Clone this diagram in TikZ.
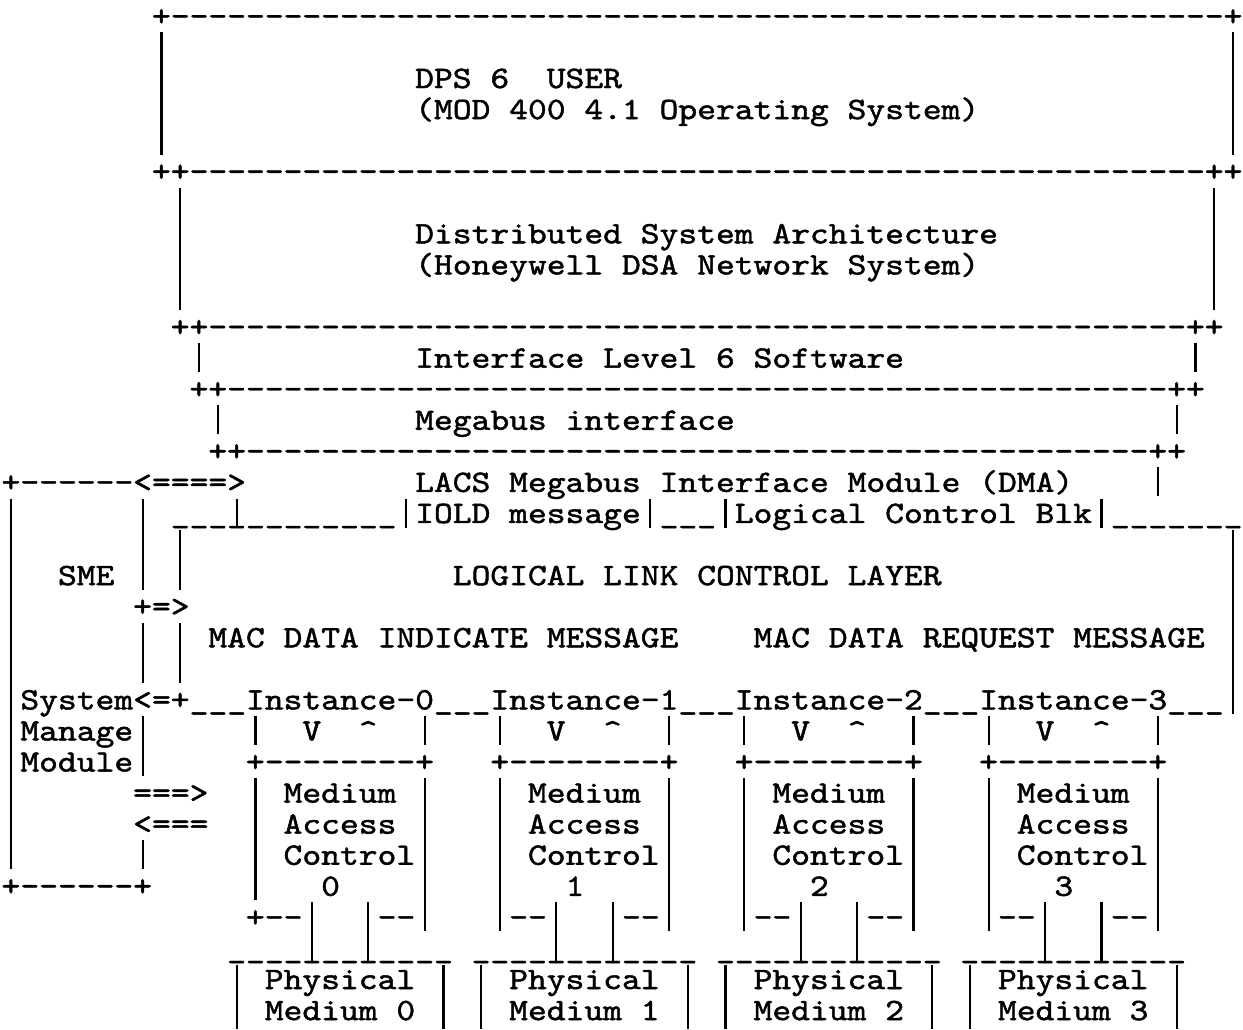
\documentclass[tikz,border=0pt]{standalone}
\usepackage{fontspec}
\setmonofont{lmmono10-regular.otf}[FakeStretch=1.15,FakeBold=1.5]
\ExplSyntaxOn
\cs_new:Npn \Rep #1#2 { \prg_replicate:nn {#1} {#2} }
\ExplSyntaxOff
\frenchspacing
% one text run of the typed grid: name, row, column, text
\newcommand\Cell[4]{\node[tw] (#1) at ({1.6+18.8*(#3)},{25.86+31.07*(#2)}) {#4};}
% a typed vertical bar: column, first row, last row
\newcommand\VB[3]{\draw[vbar] ({11+18.8*(#1)},{1.4+31.07*(#2)}) -- ({11+18.8*(#1)},{30.4+31.07*(#3)});}
% a bar from a row down to the lower edge of the page
\newcommand\VBend[2]{\draw[vbar] ({11+18.8*(#1)},{1.4+31.07*(#2)}) -- ({11+18.8*(#1)},1029);}
\begin{document}
\begin{tikzpicture}[x={(0.5pt,0)},y={(0,-0.5pt)},
  tw/.style={anchor=base west,inner sep=0pt,outer sep=0pt,
             font=\ttfamily\fontsize{15.57pt}{18pt}\selectfont},
  vbar/.style={line width=1.1pt,line cap=butt}]
\useasboundingbox[fill=white] (0,0) rectangle (1243,1029);
% ---- DPS 6 user
\Cell{a0}{0}{8}{+\Rep{56}{-}+}
\Cell{dps}{2}{22}{DPS~6~~USER}
\Cell{mod}{3}{22}{(MOD~400~4.1~Operating~System)}
\Cell{a5}{5}{8}{++\Rep{54}{-}++}
\VB{8}{1}{4}\VB{65}{1}{4}
% ---- DSA
\Cell{dsa}{7}{22}{Distributed~System~Architecture}
\Cell{hon}{8}{22}{(Honeywell~DSA~Network~System)}
\Cell{b10}{10}{9}{++\Rep{52}{-}++}
\VB{9}{6}{9}\VB{64}{6}{9}
% ---- Interface level 6
\Cell{ils}{11}{22}{Interface~Level~6~Software}
\Cell{c12}{12}{10}{++\Rep{50}{-}++}
\VB{10}{11}{11}\VB{63}{11}{11}
% ---- Megabus
\Cell{meg}{13}{22}{Megabus~interface}
\Cell{d14}{14}{11}{++\Rep{48}{-}++}
\VB{11}{13}{13}\VB{62}{13}{13}
% ---- LACS
\Cell{e15}{15}{0}{+------<====>}
\Cell{lacs}{15}{22}{LACS~Megabus~Interface~Module~(DMA)}
\VB{61}{15}{15}
\Cell{u16a}{16}{9}{\Rep{12}{\_}}
\Cell{iold}{16}{22}{IOLD~message}
\Cell{u16b}{16}{35}{\_\_\_}
\Cell{lcb}{16}{39}{Logical~Control~Blk}
\Cell{u16c}{16}{59}{\Rep{7}{\_}}
\VB{12}{16}{16}\VB{21}{16}{16}\VB{34}{16}{16}\VB{38}{16}{16}\VB{58}{16}{16}
% ---- LLC layer
\Cell{sme}{18}{3}{SME}
\Cell{llc}{18}{24}{LOGICAL~LINK~CONTROL~LAYER}
\Cell{smeto}{19}{7}{+=>}
\Cell{ind}{20}{11}{MAC~DATA~INDICATE~MESSAGE}
\Cell{req}{20}{40}{MAC~DATA~REQUEST~MESSAGE}
\Cell{inst}{22}{1}{System<=+\_\_\_Instance-0\_\_\_Instance-1\_\_\_Instance-2\_\_\_Instance-3\_\_\_}
\VB{9}{17}{18}\VB{9}{20}{21}\VB{65}{17}{22}
% ---- system manage module
\Cell{man}{23}{1}{Manage}
\Cell{modu}{24}{1}{Module}
\Cell{toin}{25}{7}{===>}
\Cell{frin}{26}{7}{<===}
\Cell{g28}{28}{0}{+------+}
\VB{0}{16}{27}
\VB{7}{16}{18}\VB{7}{20}{21}\VB{7}{23}{24}\VB{7}{27}{27}
% ---- MAC instances and physical media
\foreach \k in {0,...,3}{
  \Cell{vv\k}{23}{16+13*\k}{V~~\textasciicircum}
  \Cell{top\k}{24}{13+13*\k}{+\Rep{8}{-}+}
  \Cell{med\k}{25}{15+13*\k}{Medium}
  \Cell{acc\k}{26}{15+13*\k}{Access}
  \Cell{con\k}{27}{15+13*\k}{Control}
  \Cell{num\k}{28}{17+13*\k}{\k}
  \Cell{dr\k}{29}{20+13*\k}{--}
  \Cell{bus\k}{30}{12+13*\k}{\Rep{12}{\_}}
  \Cell{phy\k}{31}{14+13*\k}{Physical}
  \Cell{pm\k}{32}{14+13*\k}{Medium~\k}
  \VB{13+13*\k}{23}{23}\VB{22+13*\k}{23}{23}
  \VB{22+13*\k}{25}{29}
  \VB{16+13*\k}{29}{30}\VB{19+13*\k}{29}{30}
  \VBend{12+13*\k}{31}\VBend{23+13*\k}{31}
}
\Cell{dl0}{29}{13}{+--}
\VB{13}{25}{28}
\foreach \k in {1,2,3}{
  \Cell{dl\k}{29}{14+13*\k}{--}
  \VB{13+13*\k}{25}{29}
}
\end{tikzpicture}
\end{document}
